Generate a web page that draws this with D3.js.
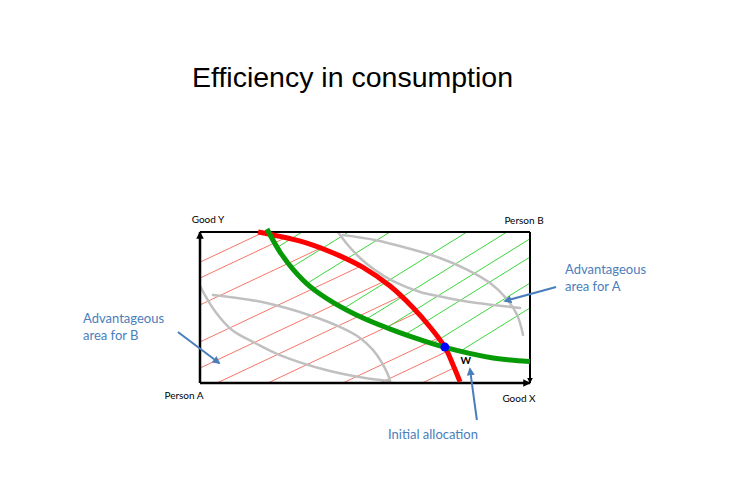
<!DOCTYPE html>
<html>
<head>
<meta charset="utf-8">
<script src="https://cdn.jsdelivr.net/npm/d3@7"></script>
<style>
  body { margin: 0; background: #fff; }
  svg text { font-family: Lato, "Open Sans", sans-serif; }
</style>
</head>
<body>
<svg id="chart" width="740" height="483"></svg>
<script>
// Edgeworth box, both goods on a 0..10 scale (origin A bottom-left)
const redCurve = [[1.76,10],[3.24,9.27],[4.24,8.42],[4.94,7.66],[5.76,6.42],[6.45,5.0],[6.97,3.71],[7.42,2.38],[7.67,1.19],[7.88,0.07]]
const greenCurve = [[2.03,10.2],[2.42,8.69],[2.82,7.53],[3.33,6.4],[4.03,5.34],[4.94,4.3],[5.97,3.4],[6.76,2.8],[7.42,2.36],[8.88,1.66],[10,1.42]]
const grayA1 = [[0,6.42],[0.45,4.77],[0.97,3.51],[1.67,2.65],[2.42,1.85],[3.94,0.79],[5.0,0.33],[5.76,0.13]]
const grayA2 = [[0.39,5.83],[1.88,5.36],[3.39,4.44],[4.24,3.71],[4.85,2.98],[5.24,2.19],[5.52,1.32],[5.7,0.53],[5.76,0.13]]
const grayB1 = [[4.33,9.8],[5.3,9.47],[6.27,8.94],[7.27,8.28],[8.12,7.48],[8.79,6.62],[9.27,5.63],[9.61,4.5],[9.79,3.18]]
const grayB2 = [[4.18,10],[4.48,9.14],[4.85,8.28],[5.3,7.48],[5.85,6.75],[6.67,6.03],[7.36,5.7],[8.18,5.36],[8.88,5.17],[9.7,4.97]]

// hatching: y = slope * x + intercept
const redSlope = 1.03
const redIntercepts = [8.0, 6.95, 5.17, 2.72, 0.99, -0.53, -2.12, -4.46, -5.62, -6.93]
const greenSlope = 1.355
const greenIntercepts = [5.81, 3.9, 2.2, -0.96, -2.6, -4.0, -5.21, -6.93, -8.58]

const allocation = [7.42, 2.38]   // point W

const labels = { goodY: "Good Y", goodX: "Good X", personA: "Person A", personB: "Person B" }
const noteA = ["Advantageous", "area for A"]
const noteB = ["Advantageous", "area for B"]
const noteW = ["Initial allocation"]

const svg = d3.select("#chart")
const x = d3.scaleLinear().domain([0, 10]).range([200, 530])
const y = d3.scaleLinear().domain([0, 10]).range([383, 232])

const line = d3.line()
  .x(d => x(d[0]))
  .y(d => y(d[1]))
  .curve(d3.curveCatmullRom.alpha(0.5))

const blue = "#4a7ebb"

svg.append("text")
  .attr("x", 352.5).attr("y", 87)
  .attr("text-anchor", "middle")
  .style("font-family", "'Liberation Sans', Arial, sans-serif")
  .style("font-size", "28.5px")
  .attr("fill", "#000")
  .text("Efficiency in consumption")

const defs = svg.append("defs")

defs.append("clipPath").attr("id", "boxClip")
  .append("rect")
    .attr("x", x(0)).attr("y", y(10))
    .attr("width", x(10) - x(0)).attr("height", y(0) - y(10))

const redEnd = redCurve[redCurve.length - 1]
defs.append("clipPath").attr("id", "redClip")
  .append("path")
    .attr("d", line(redCurve) + `L${x(redEnd[0])},${y(-1)}L${x(-1)},${y(-1)}L${x(-1)},${y(10)}Z`)

const greenStart = greenCurve[0]
defs.append("clipPath").attr("id", "greenClip")
  .append("path")
    .attr("d", line(greenCurve) + `L${x(11)},${y(1.42)}L${x(11)},${y(11)}L${x(greenStart[0])},${y(11)}Z`)

defs.append("marker").attr("id", "blueHead")
    .attr("viewBox", "0 0 10 10").attr("refX", 8).attr("refY", 5)
    .attr("markerWidth", 4).attr("markerHeight", 4)
    .attr("markerUnits", "strokeWidth")
    .attr("orient", "auto")
  .append("path").attr("d", "M0,0L10,5L0,10Z").attr("fill", blue)

defs.append("marker").attr("id", "blackHead")
    .attr("viewBox", "0 0 10 10").attr("refX", 9).attr("refY", 5)
    .attr("markerWidth", 3).attr("markerHeight", 3)
    .attr("markerUnits", "strokeWidth")
    .attr("orient", "auto")
  .append("path").attr("d", "M0,0L10,5L0,10Z").attr("fill", "#000")

// segment of each hatch line inside the box
function hatch (slope, c) {
  const x1 = Math.max(0, -c / slope)
  const x2 = Math.min(10, (10 - c) / slope)
  return [[x1, slope * x1 + c], [x2, slope * x2 + c]]
}

const hatchG = svg.append("g").attr("clip-path", "url(#boxClip)")

hatchG.append("g").attr("clip-path", "url(#redClip)")
  .selectAll("line")
  .data(redIntercepts.map(c => hatch(redSlope, c)))
  .join("line")
    .attr("x1", d => x(d[0][0])).attr("y1", d => y(d[0][1]))
    .attr("x2", d => x(d[1][0])).attr("y2", d => y(d[1][1]))
    .attr("stroke", "#f7756a")
    .attr("stroke-width", 1)

hatchG.append("g").attr("clip-path", "url(#greenClip)")
  .selectAll("line")
  .data(greenIntercepts.map(c => hatch(greenSlope, c)))
  .join("line")
    .attr("x1", d => x(d[0][0])).attr("y1", d => y(d[0][1]))
    .attr("x2", d => x(d[1][0])).attr("y2", d => y(d[1][1]))
    .attr("stroke", "#3dd63d")
    .attr("stroke-width", 1)

svg.append("g")
  .selectAll("path")
  .data([grayA1, grayA2, grayB1, grayB2])
  .join("path")
    .attr("d", line)
    .attr("fill", "none")
    .attr("stroke", "#c0c0c0")
    .attr("stroke-width", 2.5)
    .attr("stroke-linecap", "round")

// box
const box = svg.append("g").attr("stroke", "#000").attr("fill", "none")
box.append("line")
  .attr("x1", x(0)).attr("y1", y(10)).attr("x2", x(10)).attr("y2", y(10))
  .attr("stroke-width", 2)
box.append("line")
  .attr("x1", x(10)).attr("y1", y(10)).attr("x2", x(10)).attr("y2", y(0))
  .attr("stroke-width", 2).attr("marker-end", "url(#blackHead)")
box.append("line")
  .attr("x1", x(0)).attr("y1", y(0)).attr("x2", x(0)).attr("y2", y(10))
  .attr("stroke-width", 2.5).attr("marker-end", "url(#blackHead)")
box.append("line")
  .attr("x1", x(0)).attr("y1", y(0)).attr("x2", x(10)).attr("y2", y(0))
  .attr("stroke-width", 2.5).attr("marker-end", "url(#blackHead)")

svg.append("path")
  .attr("d", line(redCurve))
  .attr("fill", "none")
  .attr("stroke", "#ff0000")
  .attr("stroke-width", 5)

svg.append("path")
  .attr("d", line(greenCurve))
  .attr("fill", "none")
  .attr("stroke", "#079a07")
  .attr("stroke-width", 5)

svg.append("circle")
  .attr("cx", x(allocation[0])).attr("cy", y(allocation[1]))
  .attr("r", 4.5)
  .attr("fill", "#0000ff")

// corner labels
const small = svg.append("g").style("font-size", "10px").attr("fill", "#000").attr("text-anchor", "middle")
small.append("text").attr("x", x(0) + 8).attr("y", y(10) - 9).text(labels.goodY)
small.append("text").attr("x", x(10) - 6).attr("y", y(10) - 8).text(labels.personB)
small.append("text").attr("x", x(0) - 16).attr("y", y(0) + 16).text(labels.personA)
small.append("text").attr("x", x(10) - 11).attr("y", y(0) + 19).text(labels.goodX)

svg.append("text")
  .attr("x", x(allocation[0]) + 21).attr("y", y(allocation[1]) + 17)
  .attr("text-anchor", "middle")
  .style("font-size", "10px").style("font-weight", "bold")
  .text("W")

// notes and pointers
const arrows = [
  [[10.79, 6.36], [9.24, 5.43]],
  [[-0.67, 3.38], [0.58, 1.32]],
  [[8.39, -2.45], [8.18, 0.93]]
]
svg.append("g")
  .selectAll("line")
  .data(arrows)
  .join("line")
    .attr("x1", d => x(d[0][0])).attr("y1", d => y(d[0][1]))
    .attr("x2", d => x(d[1][0])).attr("y2", d => y(d[1][1]))
    .attr("stroke", blue)
    .attr("stroke-width", 2)
    .attr("marker-end", "url(#blueHead)")

const notes = svg.append("g").attr("fill", blue).style("font-size", "13px")
notes.append("text").attr("x", 565).attr("y", 274)
  .selectAll("tspan").data(noteA).join("tspan")
    .attr("x", 565).attr("dy", (d, i) => i ? 17 : 0).text(d => d)
notes.append("text").attr("x", 83).attr("y", 323)
  .selectAll("tspan").data(noteB).join("tspan")
    .attr("x", 83).attr("dy", (d, i) => i ? 17 : 0).text(d => d)
notes.append("text").attr("x", 433).attr("y", 439).attr("text-anchor", "middle")
  .text(noteW[0])
</script>
</body>
</html>
